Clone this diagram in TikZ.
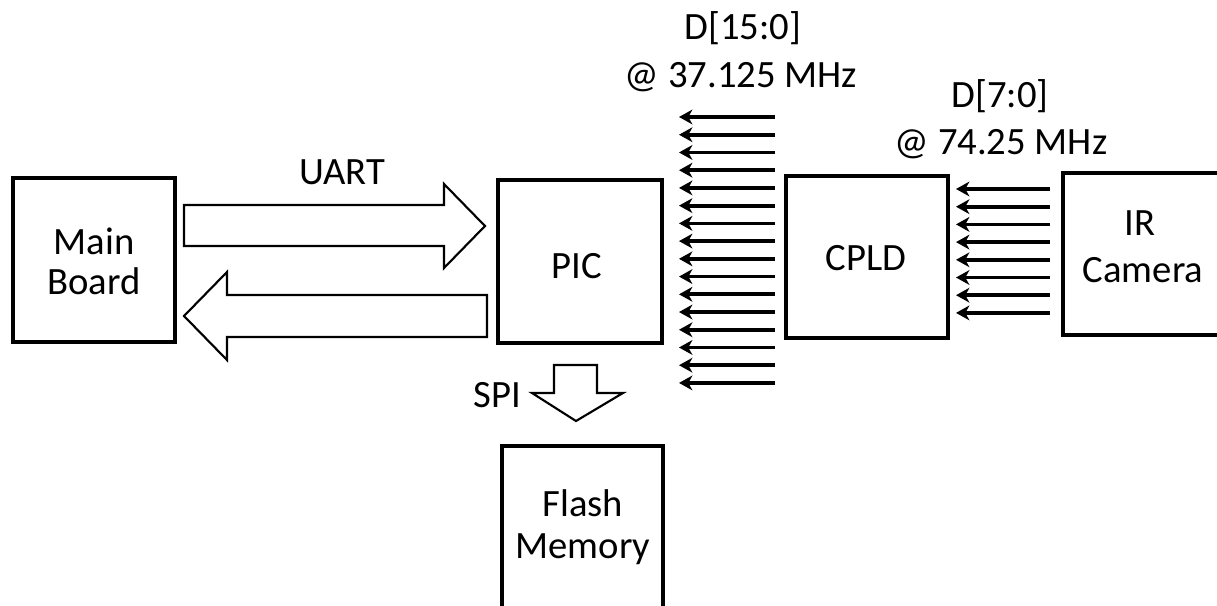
\documentclass[tikz,border=0pt]{standalone}
\usepackage{fontspec}
\setmainfont{Carlito}
\usetikzlibrary{arrows.meta}
\begin{document}
\begin{tikzpicture}[x=0.75pt,y=-0.75pt,
  blk/.style={draw=black,line width=2.5pt,fill=white},
  lbl/.style={anchor=base,inner sep=0pt,font=\fontsize{29}{35}\selectfont},
  busarrow/.style={line width=2.8pt,-{Stealth[length=10pt,width=11pt,inset=3pt]}},
  fatarrow/.style={draw=black,line width=1.6pt,fill=white,line join=miter}]
\useasboundingbox (0,0) rectangle (1217,606);
\clip (0,0) rectangle (1217,606);
% boxes
\draw[blk] (13,178) rectangle (175,342);
\coordinate (mb) at (94,260);
\draw[blk] (498,180) rectangle (662,343);
\coordinate (pic) at (580,261);
\draw[blk] (786,176) rectangle (948,338);
\coordinate (cpld) at (867,257);
\draw[blk] (1063,173) rectangle (1240,335);
\coordinate (cam) at (1140,254);
\draw[blk] (502,446) rectangle (663,640);
\coordinate (flash) at (583,530);
% box texts
\node[lbl] (tMain) at (94,254) {Main};
\node[lbl] (tBoard) at (94,294) {Board};
\node[lbl] (tPIC) at (577,278) {PIC};
\node[lbl] (tCPLD) at (866,270) {CPLD};
\node[lbl] (tIR) at (1140,235) {IR};
\node[lbl] (tCam) at (1143,282) {Camera};
\node[lbl] (tFlash) at (583,516) {Flash};
\node[lbl] (tMem) at (583,558) {Memory};
% labels
\node[lbl] (uart) at (342,185) {UART};
\node[lbl] (spi) at (497,407) {SPI};
\node[lbl] (d16a) at (743,40) {D[15:0]};
\node[lbl] (d16b) at (741,88) {@ 37.125 MHz};
\node[lbl] (d8a) at (1000,108) {D[7:0]};
\node[lbl] (d8b) at (1001,155) {@ 74.25 MHz};
% UART block arrows
\draw[fatarrow] (184,205) -- (444,205) -- (444,184) -- (485,226) -- (444,268) -- (444,246) -- (184,246) -- cycle;
\draw[fatarrow] (487,295) -- (227,295) -- (227,272) -- (184,316) -- (227,360) -- (227,337) -- (487,337) -- cycle;
% SPI block arrow
\draw[fatarrow] (554,365) -- (597,365) -- (597,393) -- (623,393) -- (576,421) -- (532,393) -- (554,393) -- cycle;
% 16-bit bus
\foreach \i in {0,...,15}{
  \coordinate (bs\i) at (775,{117+\i*17.73});
  \coordinate (be\i) at (679,{117+\i*17.73});
  \draw[busarrow] (bs\i) -- (be\i);
}
% 8-bit bus
\foreach \i in {0,...,7}{
  \coordinate (cs\i) at (1050,{189+\i*17.7});
  \coordinate (ce\i) at (956,{189+\i*17.7});
  \draw[busarrow] (cs\i) -- (ce\i);
}
\end{tikzpicture}
\end{document}
